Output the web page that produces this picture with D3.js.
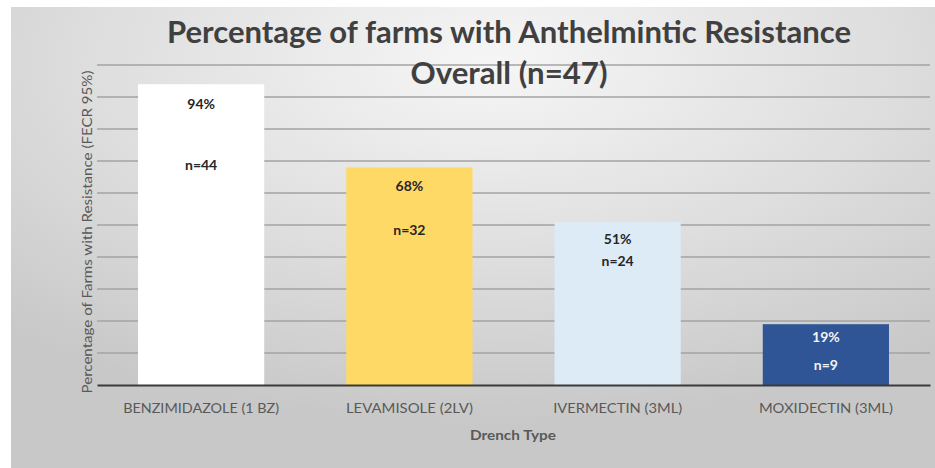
<!DOCTYPE html>
<html>
<head>
<meta charset="utf-8">
<script src="https://cdn.jsdelivr.net/npm/d3@7"></script>
<style>
  html, body { margin: 0; padding: 0; background: #ffffff; }
  svg { display: block; }
</style>
</head>
<body>
<svg id="chart" width="935" height="468"></svg>
<script>
// Drench classes and the share of farms with resistance to each
const drenches = ["BENZIMIDAZOLE (1 BZ)", "LEVAMISOLE (2LV)", "IVERMECTIN (3ML)", "MOXIDECTIN (3ML)"];
const resistantPct = [94, 68, 51, 19];
const resistantFarms = [44, 32, 24, 9];
const gridTicks = [10, 20, 30, 40, 50, 60, 70, 80, 90, 100];

const titleLines = ["Percentage of farms with Anthelmintic Resistance", "Overall (n=47)"];
const yTitle = "Percentage of Farms with Resistance (FECR 95%)";
const xTitle = "Drench Type";

// Presentation settings
const barColors = ["#ffffff", "#ffd966", "#ddebf7", "#2f5597"];
const labelColors = ["#262626", "#262626", "#262626", "#f4f4f4"];
// baseline offsets of the two in-bar labels, measured from each bar top
const labelOffsets = [[25, 86], [24, 68], [22, 44], [18, 46]];
const xLabelWidths = [156, 127, 129, 134];

const svg = d3.select("#chart");
const W = 935, H = 468;
const plot = { left: 97, right: 930, top: 65, bottom: 385 };
const font = "Lato, 'Open Sans', sans-serif";

// Background panel with a soft radial gradient
const defs = svg.append("defs");
const grad = defs.append("radialGradient")
  .attr("id", "bg").attr("cx", 0.52).attr("cy", 0.12).attr("r", 0.78)
  .attr("fx", 0.52).attr("fy", 0.12);
grad.append("stop").attr("offset", 0).attr("stop-color", "#f6f6f6");
grad.append("stop").attr("offset", 0.55).attr("stop-color", "#dedede");
grad.append("stop").attr("offset", 1).attr("stop-color", "#c8c8c8");

svg.append("rect").attr("x", 11).attr("y", 7).attr("width", W - 11).attr("height", H - 7)
  .attr("fill", "url(#bg)");

const x = d3.scaleBand().domain(drenches).range([plot.left, plot.right])
  .paddingInner(0.394).paddingOuter(0.197);
const y = d3.scaleLinear().domain([0, 100]).range([plot.bottom, plot.top]);

// Horizontal gridlines
svg.append("g").selectAll("line").data(gridTicks).join("line")
  .attr("x1", plot.left).attr("x2", plot.right)
  .attr("y1", d => y(d)).attr("y2", d => y(d))
  .attr("stroke", "#a3a3a3").attr("stroke-width", 1.3);

// Bars
svg.append("g").selectAll("rect").data(drenches).join("rect")
  .attr("x", d => x(d)).attr("width", x.bandwidth())
  .attr("y", (d, i) => y(resistantPct[i]))
  .attr("height", (d, i) => y(0) - y(resistantPct[i]))
  .attr("fill", (d, i) => barColors[i]);

// Category axis baseline and labels
const xAxis = d3.axisBottom(x).tickSize(0).tickPadding(0);
const gx = svg.append("g").attr("transform", `translate(0,${plot.bottom})`).call(xAxis);
gx.select(".domain").attr("stroke", "#3a3a3a").attr("stroke-width", 2.2);
gx.selectAll(".tick text")
  .attr("dy", null).attr("y", 28)
  .attr("font-family", font)
  .attr("font-size", 14).attr("fill", "#595959")
  .attr("textLength", (d, i) => xLabelWidths[i]).attr("lengthAdjust", "spacingAndGlyphs");

// In-bar labels: percentage and farm count
const labels = svg.append("g")
  .attr("font-family", font)
  .attr("font-weight", "bold").attr("font-size", 14).attr("text-anchor", "middle");
labels.selectAll("text.pct").data(drenches).join("text").attr("class", "pct")
  .attr("x", d => x(d) + x.bandwidth() / 2)
  .attr("y", (d, i) => y(resistantPct[i]) + labelOffsets[i][0])
  .attr("fill", (d, i) => labelColors[i])
  .text((d, i) => `${resistantPct[i]}%`);
labels.selectAll("text.cnt").data(drenches).join("text").attr("class", "cnt")
  .attr("x", d => x(d) + x.bandwidth() / 2)
  .attr("y", (d, i) => y(resistantPct[i]) + labelOffsets[i][1])
  .attr("fill", (d, i) => labelColors[i])
  .text((d, i) => `n=${resistantFarms[i]}`);

// Chart title
svg.append("g").selectAll("text").data(titleLines).join("text")
  .attr("x", 509).attr("y", (d, i) => 43 + i * 41)
  .attr("text-anchor", "middle")
  .attr("font-family", font)
  .attr("font-weight", "bold").attr("font-size", 31).attr("fill", "#404040")
  .attr("textLength", (d, i) => [684, 197][i]).attr("lengthAdjust", "spacingAndGlyphs")
  .text(d => d);

// Axis titles
svg.append("text")
  .attr("transform", "translate(92,232) rotate(-90)")
  .attr("text-anchor", "middle")
  .attr("font-family", font)
  .attr("font-size", 14).attr("fill", "#595959")
  .attr("textLength", 323).attr("lengthAdjust", "spacingAndGlyphs")
  .text(yTitle);

svg.append("text")
  .attr("x", 513).attr("y", 440)
  .attr("text-anchor", "middle")
  .attr("font-family", font)
  .attr("font-weight", "bold").attr("font-size", 14).attr("fill", "#595959")
  .attr("textLength", 86).attr("lengthAdjust", "spacingAndGlyphs")
  .text(xTitle);
</script>
</body>
</html>
